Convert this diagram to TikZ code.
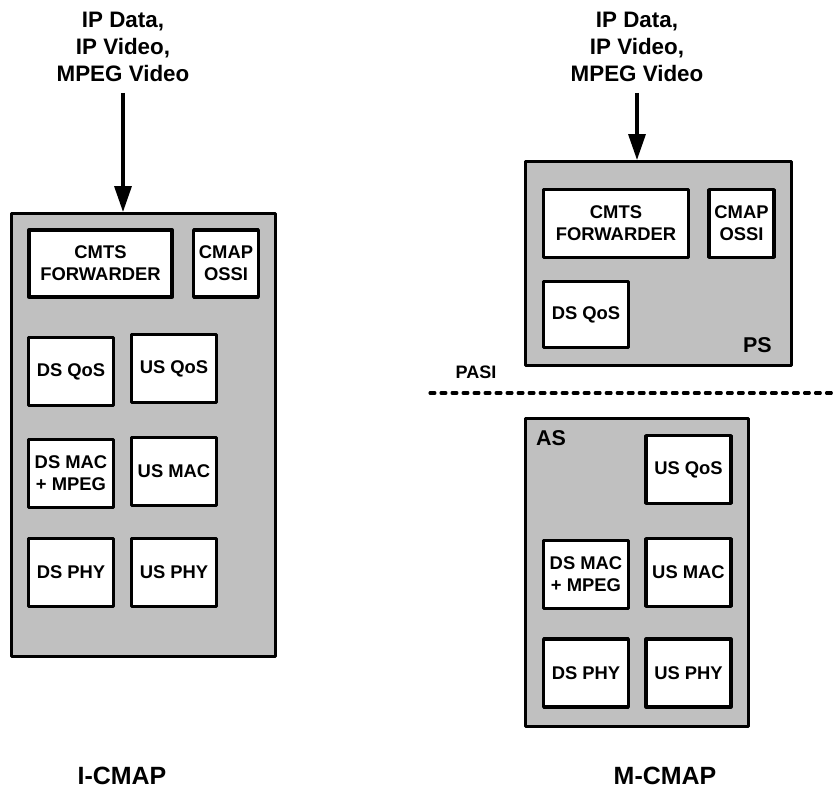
\documentclass[tikz,border=0pt]{standalone}
\usepackage{fontspec}
\setmainfont{Liberation Sans}
\usetikzlibrary{arrows.meta}
\definecolor{boxgray}{HTML}{C0C0C0}
\tikzset{
	outer/.style={draw, fill=boxgray, line width=2.6pt, line join=round, inner sep=0pt},
	blk/.style={draw, fill=white, line width=3pt, line join=round, align=center, inner sep=0pt,
		minimum width=2.54cm, minimum height=2.03cm, font=\fontsize{15.7}{19}\selectfont\bfseries},
	hdr/.style={align=center, anchor=south, inner xsep=0pt, inner ysep=9.4pt,
		font=\fontsize{19.1}{23}\selectfont\bfseries},
	tag/.style={inner sep=0pt, font=\fontsize{18.3}{22}\selectfont\bfseries},
	title/.style={inner sep=0pt, anchor=base, font=\fontsize{21.3}{25}\selectfont\bfseries},
	arr/.style={line width=2.6pt, -{Triangle[width=14.5pt,length=22pt]}}
}
\begin{document}
\begin{tikzpicture}[x=0.03cm, y=-0.03cm]
		\useasboundingbox (0,0) rectangle (836,788);
		\begin{scope}
		\node[outer, minimum width=7.92cm, minimum height=13.29cm] (icmap) at (143.5,435) {};
		\node[hdr] (lsrc) at (123,93) {IP Data,\\IP Video,\\MPEG Video};
		\draw[arr] (lsrc.south) -- (lsrc.south |- icmap.north);
		\node[blk, minimum width=4.3cm, minimum height=2cm] (lfwd) at (100.5,263.5) {CMTS\\FORWARDER};
		\node[blk, minimum width=1.94cm, minimum height=2cm] (lossi) at (226,263.5) {CMAP\\OSSI};
		\node[blk] (ldsqos) at (71,371.5) {DS QoS};
		\node[blk] (lusqos) at (174,368.5) {US QoS};
		\node[blk] (ldsmac) at (71,473.5) {DS MAC\\+ MPEG};
		\node[blk] (lusmac) at (174,471.5) {US MAC};
		\node[blk] (ldsphy) at (71,572.5) {DS PHY};
		\node[blk] (lusphy) at (174,572.5) {US PHY};
		\node[title] (ilabel) at (122,784) {I-CMAP};
		\end{scope}
		\begin{scope}
		\node[outer, minimum width=7.98cm, minimum height=6.12cm] (ps) at (658.5,263.5) {};
		\node[hdr] (rsrc) at (637,93) {IP Data,\\IP Video,\\MPEG Video};
		\draw[arr] (rsrc.south) -- (rsrc.south |- ps.north);
		\node[blk, minimum width=4.34cm] (rfwd) at (616,223.5) {CMTS\\FORWARDER};
		\node[blk, minimum width=1.96cm] (rossi) at (741.5,223.5) {CMAP\\OSSI};
		\node[blk, minimum height=1.97cm] (rdsqos) at (586,314.5) {DS QoS};
		\node[tag, anchor=base east] (pstag) at (772,352) {PS};
		\node[font=\fontsize{15.4}{18}\selectfont\bfseries] (pasi) at (476,372) {PASI};
		\coordinate (dl) at (430,393);
		\coordinate (dr) at (836,393);
		\draw[line width=2.6pt, line cap=round, dash pattern=on 4.2pt off 5.2pt] (dl) -- (dr);
		\node[outer, minimum width=6.69cm, minimum height=9.24cm] (as) at (637,572.5) {};
		\node[tag, anchor=base west] (astag) at (536,445) {AS};
		\node[blk] (rusqos) at (688.5,469.5) {US QoS};
		\node[blk] (rdsmac) at (586,574.5) {DS MAC\\+ MPEG};
		\node[blk] (rusmac) at (688.5,572.5) {US MAC};
		\node[blk] (rdsphy) at (586,673) {DS PHY};
		\node[blk] (rusphy) at (688.5,673) {US PHY};
		\node[title] (mlabel) at (665,784) {M-CMAP};
		\end{scope}
\end{tikzpicture}
\end{document}
